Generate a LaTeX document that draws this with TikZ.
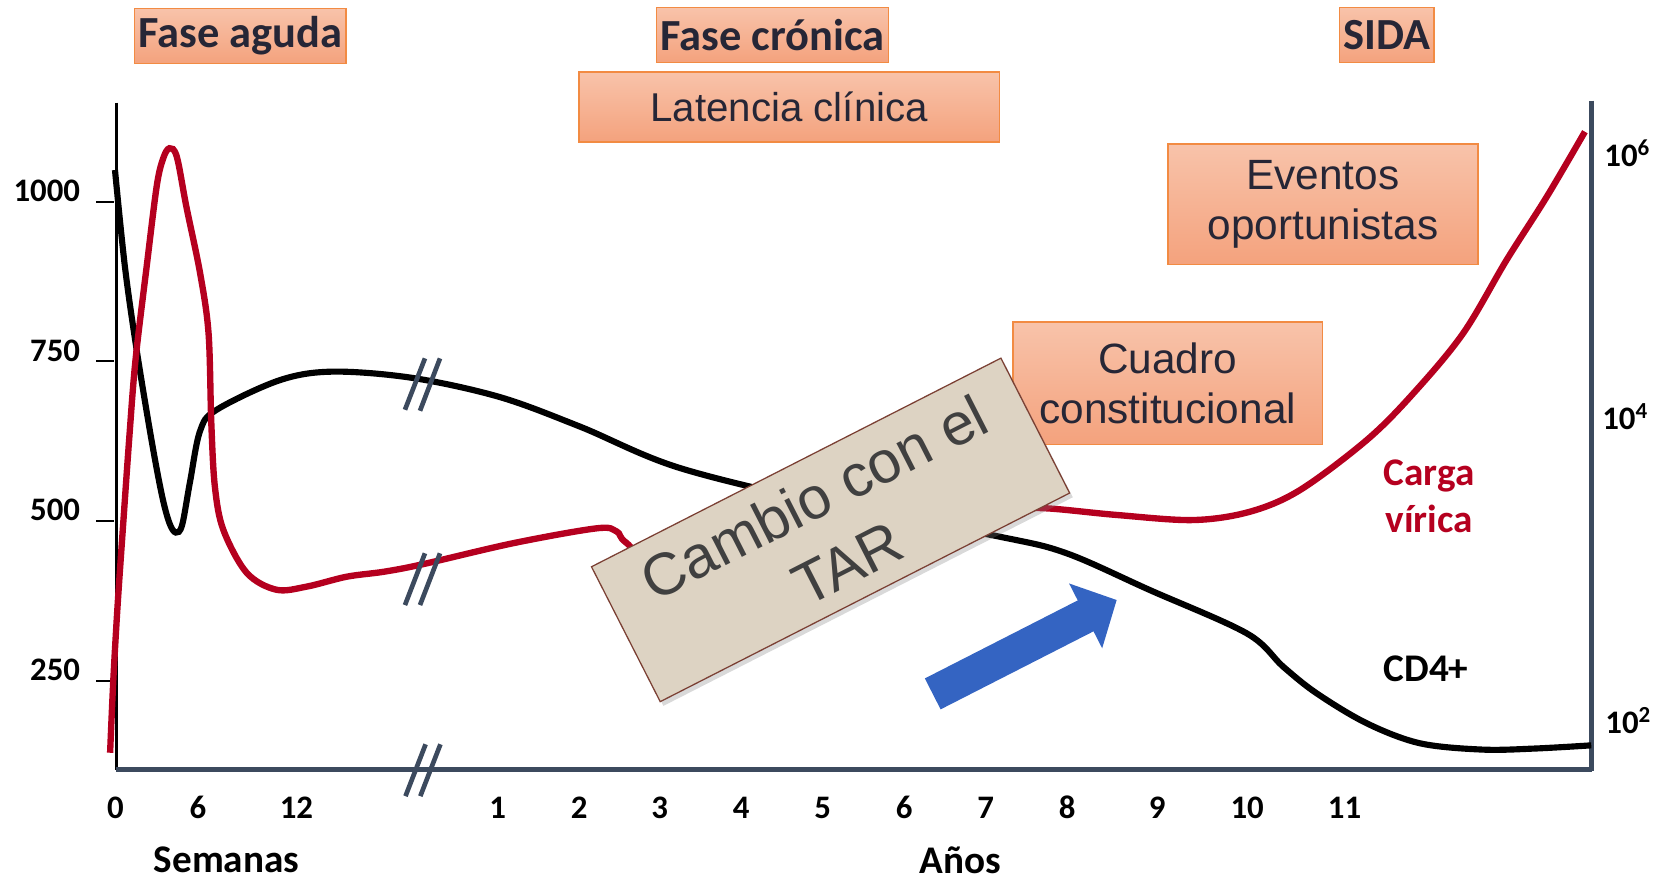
\documentclass[tikz,border=0pt]{standalone}
\usepackage{fontspec}
\setmainfont{Carlito}
\newfontfamily\arialfont{Liberation Sans}
\usetikzlibrary{arrows.meta,shadows}

\definecolor{vihred}{HTML}{B5001F}
\definecolor{axisslate}{HTML}{3C4A5E}
\definecolor{titleink}{HTML}{262636}
\definecolor{boxtop}{HTML}{F8C3AA}
\definecolor{boxbottom}{HTML}{F4A27D}
\definecolor{boxline}{HTML}{F28B43}
\definecolor{tarfill}{HTML}{DDD3C3}
\definecolor{tarline}{HTML}{7B4034}
\definecolor{tarink}{HTML}{404040}
\definecolor{arrowblue}{HTML}{3464C2}

\begin{document}
\begin{tikzpicture}[x=0.5pt, y=-0.5pt,
	phasebox/.style={top color=boxtop, bottom color=boxbottom, draw=boxline, line width=0.7pt, text=titleink, font=\bfseries\fontsize{21}{24}\selectfont, inner xsep=1.8pt, minimum height=26pt},
	notebox/.style={top color=boxtop, bottom color=boxbottom, draw=boxline, line width=0.7pt, text=titleink, font=\arialfont\fontsize{20}{23.5}\selectfont, align=center},
	tarbox/.style={fill=tarfill, draw=tarline, line width=0.6pt, text=tarink, font=\arialfont\fontsize{28}{35}\selectfont, align=center, rotate=27, minimum width=217pt, minimum height=71.5pt, drop shadow={shadow xshift=1.5pt, shadow yshift=-2pt, opacity=0.3}},
	axisnum/.style={font=\bfseries\fontsize{15.5}{18}\selectfont, inner sep=0pt},
	axisname/.style={font=\bfseries\fontsize{18.5}{22}\selectfont, inner sep=0pt},
	cd4/.style={draw=black, line width=2.9pt},
	viral/.style={draw=vihred, line width=3pt},
	axisline/.style={draw=axisslate, line width=2.2pt},
	breakmark/.style={draw=axisslate, line width=2.2pt}]
	\useasboundingbox (0,0) rectangle (1567,832);
	
	% axes
	\coordinate (o) at (110,727);
	\coordinate (ytop) at (110,97);
	\coordinate (xend) at (1504,727);
	\coordinate (rtop) at (1503,95);
	\coordinate (rbot) at (1503,728);
	\draw[line width=1.3pt] (ytop) -- (o);
	\draw[axisline] (o) -- (xend);
	\draw[axisline] (rtop) -- (rbot);
	
	\draw[line width=1pt] (91,190.5) -- (108,190.5);
	\draw[line width=1pt] (91,341) -- (108,341);
	\draw[line width=1pt] (91,492) -- (108,492);
	\draw[line width=1pt] (91,643) -- (108,643);
	\node[axisnum, anchor=base east] (v1000) at (76,190) {1000};
	\node[axisnum, anchor=base east] (v750) at (76,341) {750};
	\node[axisnum, anchor=base east] (v500) at (76,492) {500};
	\node[axisnum, anchor=base east] (v250) at (76,643) {250};
	
	\node[axisnum, anchor=base west] (e6) at (1515,157.5) {10\textsuperscript{6}};
	\node[axisnum, anchor=base west] (e4) at (1513,406) {10\textsuperscript{4}};
	\node[axisnum, anchor=base west] (e2) at (1516,693) {10\textsuperscript{2}};
	
	\node[axisnum, anchor=base] (w0) at (109,773) {0};
	\node[axisnum, anchor=base] (w6) at (187,773) {6};
	\node[axisnum, anchor=base] (w12) at (280,773) {12};
	\node[axisnum, anchor=base] (a1) at (470,773) {1};
	\node[axisnum, anchor=base] (a2) at (547,773) {2};
	\node[axisnum, anchor=base] (a3) at (623,773) {3};
	\node[axisnum, anchor=base] (a4) at (700,773) {4};
	\node[axisnum, anchor=base] (a5) at (777,773) {5};
	\node[axisnum, anchor=base] (a6) at (854,773) {6};
	\node[axisnum, anchor=base] (a7) at (931,773) {7};
	\node[axisnum, anchor=base] (a8) at (1008,773) {8};
	\node[axisnum, anchor=base] (a9) at (1093,773) {9};
	\node[axisnum, anchor=base] (a10) at (1178,773) {10};
	\node[axisnum, anchor=base] (a11) at (1270,773) {11};
	\node[axisname] (semanas) at (214,812.5) {Semanas};
	\node[axisname] (anos) at (907,812.5) {Años};
	
	% curves
	\draw[cd4] plot[smooth, tension=0.55] coordinates {(108.6,160.6) (118,252) (129,330) (143,415) (153,468) (160,494) (166,503) (172,496) (179.5,455) (189,407) (204.7,387) (264.5,359) (315,351) (390,357) (472,375) (548,403) (642,442) (790,478) (944.6,507) (1007.5,522.6) (1086,557.3) (1177.6,598.2) (1212,629.7) (1243.7,654.9) (1291,683.2) (1341,702) (1400,708) (1450,707) (1503,704)};
	\draw[viral] plot[smooth, tension=0.55] coordinates {(104,711) (107,643) (111,573) (116,500) (122,415) (128,340) (138.5,252) (148,176) (154,150) (160,140) (167,148) (176,195) (189,258) (197,315) (199.6,400) (203,460) (211,500.6) (233,541) (261,557) (290,554) (327.5,544.7) (362.7,540) (399,533) (485,513) (563.6,499) (582.5,502) (592,513) (640,545) (800,505) (950,483) (985.5,480) (1054.8,486.4) (1127,491.2) (1180.7,483.3) (1228,462.8) (1291,415.6) (1335,371.5) (1382,314.8) (1423,245.6) (1461,185.8) (1497,124.4)};
	
	% breaks
	\draw[breakmark] (382.5,387) -- (401.4,338.5);
	\draw[breakmark] (396.7,388) -- (415.6,338.5);
	\draw[breakmark] (382.5,571.5) -- (401.4,522.6);
	\draw[breakmark] (396.7,571.5) -- (415.6,522.6);
	\draw[breakmark] (383,752) -- (402,703);
	\draw[breakmark] (397,752) -- (416,703);
	
	\node[axisname, text=vihred, align=center] (carga) at (1350,469) {Carga\\vírica};
	\node[axisname] (cd4lab) at (1347,632) {CD4+};
	
	% boxes
	\node[phasebox] (aguda) at (227,34) {Fase aguda};
	\node[phasebox] (cronica) at (729.5,33) {Fase crónica};
	\node[phasebox] (sida) at (1310,33) {SIDA};
	\node[notebox, font=\arialfont\fontsize{19}{22}\selectfont, minimum width=198.5pt, minimum height=33pt] (latencia) at (745.5,101) {Latencia clínica};
	\node[notebox, minimum width=146.5pt, minimum height=57pt] (eventos) at (1249.5,193) {Eventos\\oportunistas};
	\node[notebox, minimum width=146pt, minimum height=58pt] (cuadro) at (1103,362) {Cuadro\\constitucional};
	\node[tarbox] (tar) at (784.5,500.5) {Cambio con el\\TAR};
	
	\coordinate (arrtail) at (881,655.4);
	\coordinate (arrtip) at (1054.8,566.7);
	\draw[arrowblue, line width=16.4pt, -{Triangle[length=16.5pt, width=33.4pt]}] (arrtail) -- (arrtip);
\end{tikzpicture}
\end{document}
